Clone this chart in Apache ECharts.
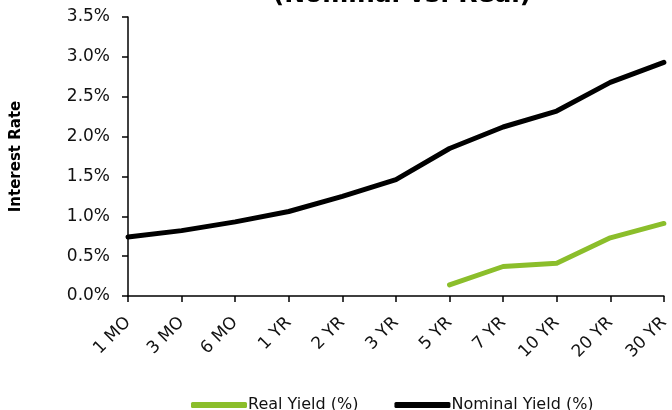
<!DOCTYPE html>
<html>
<head>
<meta charset="utf-8">
<script src="https://cdn.jsdelivr.net/npm/echarts@6/dist/echarts.min.js"></script>
<style>
  html, body { margin: 0; padding: 0; background: #ffffff; }
  #chart { width: 672px; height: 410px; }
</style>
</head>
<body>
<div id="chart"></div>
<script>
// Treasury maturities along the curve
const maturities = ['1 MO', '3 MO', '6 MO', '1 YR', '2 YR', '3 YR', '5 YR', '7 YR', '10 YR', '20 YR', '30 YR'];

// Yields in percent; real (TIPS) yields only exist from 5 years out
const realYield = [null, null, null, null, null, null, 0.14, 0.37, 0.41, 0.73, 0.91];
const nominalYield = [0.74, 0.82, 0.93, 1.06, 1.25, 1.46, 1.85, 2.12, 2.32, 2.68, 2.93];

const seriesNames = ['Real Yield (%)', 'Nominal Yield (%)'];
const seriesColors = ['#8BBE2B', '#000000'];

const chart = echarts.init(document.getElementById('chart'), null, { renderer: 'canvas' });

const baseFont = 'DejaVu Sans, Verdana, sans-serif';

chart.setOption({
  animation: false,
  backgroundColor: '#ffffff',
  title: {
    text: '(Nominal vs. Real)',
    left: 397,
    textAlign: 'center',
    top: -22,
    textStyle: { fontFamily: baseFont, fontWeight: 'bold', fontSize: 25, color: '#000000' }
  },
  legend: {
    bottom: -8,
    left: 186,
    itemGap: 36,
    itemWidth: 56,
    itemHeight: 6,
    icon: 'roundRect',
    textStyle: { fontFamily: baseFont, fontSize: 16, color: '#111111', padding: [0, 0, 0, -4] },
    data: seriesNames
  },
  grid: { left: 128, right: 6, top: 17, bottom: 114, containLabel: false },
  xAxis: {
    type: 'category',
    data: maturities,
    boundaryGap: false,
    axisLine: { lineStyle: { color: '#000000', width: 1.5 } },
    axisTick: { show: true, alignWithLabel: true, length: 6, lineStyle: { color: '#000000', width: 1.5 } },
    axisLabel: {
      rotate: 45,
      interval: 0,
      margin: 24,
      fontFamily: baseFont,
      fontSize: 17,
      color: '#111111'
    },
    splitLine: { show: false }
  },
  yAxis: {
    type: 'value',
    min: 0,
    max: 3.5,
    interval: 0.5,
    name: 'Interest Rate',
    nameLocation: 'middle',
    nameGap: 104,
    nameRotate: 90,
    nameTextStyle: { fontFamily: baseFont, fontWeight: 'bold', fontSize: 15, color: '#000000' },
    axisLine: { show: true, lineStyle: { color: '#000000', width: 1.5 } },
    axisTick: { show: true, length: 6, lineStyle: { color: '#000000', width: 1.5 } },
    axisLabel: {
      margin: 18,
      fontFamily: baseFont,
      fontSize: 17,
      color: '#111111',
      formatter: v => v.toFixed(1) + '%'
    },
    splitLine: { show: false }
  },
  series: [
    {
      name: seriesNames[0],
      type: 'line',
      data: realYield,
      symbol: 'none',
      connectNulls: false,
      color: seriesColors[0],
      lineStyle: { color: seriesColors[0], width: 5, cap: 'round', join: 'round' }
    },
    {
      name: seriesNames[1],
      type: 'line',
      data: nominalYield,
      symbol: 'none',
      color: seriesColors[1],
      lineStyle: { color: seriesColors[1], width: 5, cap: 'round', join: 'round' }
    }
  ]
});
</script>
</body>
</html>
